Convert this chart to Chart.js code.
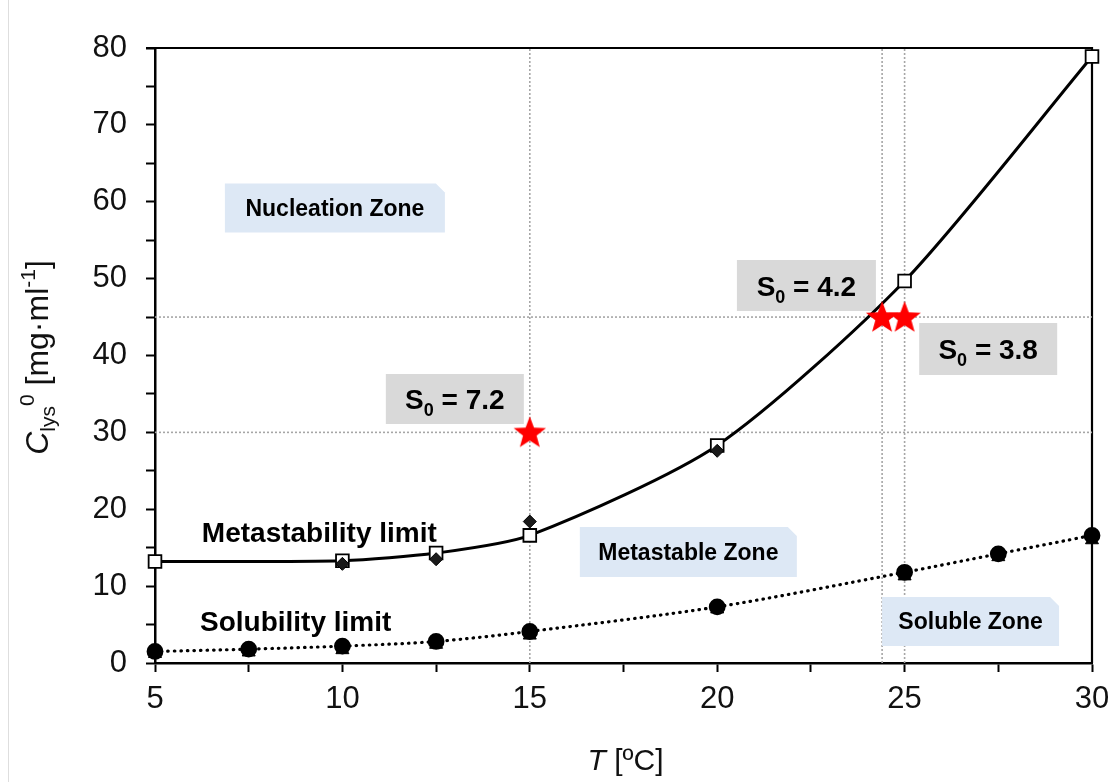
<!DOCTYPE html>
<html>
<head>
<meta charset="utf-8">
<script src="https://cdn.jsdelivr.net/npm/chart.js@4/dist/chart.umd.min.js"></script>
<style>
  html, body { margin: 0; background: #fff; }
  #wrap { width: 1115px; height: 782px; }
</style>
</head>
<body>
<div id="wrap"><canvas id="chart" width="1115" height="782"></canvas></div>
<script>
// ------------------------------------------------------------
// 리소자임 용해도 / 준안정 한계 차트
// ------------------------------------------------------------
const FONT = "'Liberation Sans', Arial, sans-serif";

// 데이터
const tempMeta   = [5, 10, 12.5, 15, 20, 25, 30];
const metaLimit  = [13.2, 13.3, 14.3, 16.6, 28.3, 49.7, 78.9];
const tempAlt    = [10, 12.5, 15, 20];
const metaAlt    = [12.9, 13.5, 18.4, 27.6];
const tempSol    = [5, 7.5, 10, 12.5, 15, 20, 25, 27.5, 30];
const solLimit   = [1.5, 1.8, 2.2, 2.8, 4.1, 7.3, 11.8, 14.2, 16.6];
const solAlt     = [1.2, 1.4, 1.7, 2.4, 3.6, 7.0, 11.3, 13.8, 16.0];
const starT      = [15, 24.4, 25];
const starC      = [30, 45, 45];
const refT       = [15, 24.4, 25];
const refC       = [30, 45];
const xTicks     = [5, 10, 15, 20, 25, 30];
const yTicks     = [0, 10, 20, 30, 40, 50, 60, 70, 80];
const xRange     = [5, 30];
const yRange     = [0, 80];

const ZONE_BG = '#dde8f5';
const S0_BG   = '#d9d9d9';
const REF     = '#a6a6a6';

const pts = (xs, ys) => xs.map((x, i) => ({ x, y: ys[i] }));

// 빨간 별 마커
function starImage(size, color) {
  const c = document.createElement('canvas');
  c.width = c.height = size;
  const g = c.getContext('2d');
  const R = size / 2 - 1, r = R * 0.42, cx = size / 2, cy = size / 2 + 1;
  g.beginPath();
  for (let i = 0; i < 10; i++) {
    const a = -Math.PI / 2 + i * Math.PI / 5;
    const rr = i % 2 ? r : R;
    g.lineTo(cx + rr * Math.cos(a), cy + rr * Math.sin(a));
  }
  g.closePath();
  g.fillStyle = color;
  g.fill();
  return c;
}

// 주석 박스 (위치: 데이터 좌표 중심, 크기: px)
const notes = [
  { kind: 'zone', text: 'Nucleation Zone', x: 9.80,  y: 59.2,  w: 220, h: 49 },
  { kind: 'zone', text: 'Metastable Zone', x: 19.23, y: 14.44, w: 217, h: 50 },
  { kind: 'zone', text: 'Soluble Zone',    x: 26.76, y: 5.40,  w: 177, h: 49 },
  { kind: 's0',   text: ' = 7.2',          x: 13.0,  y: 34.34, w: 138, h: 50 },
  { kind: 's0',   text: ' = 4.2',          x: 22.38, y: 49.1,  w: 139, h: 51 },
  { kind: 's0',   text: ' = 3.8',          x: 27.23, y: 40.85, w: 138, h: 52 },
];
const curveLabels = [
  { text: 'Metastability limit', x: 6.25, y: 15.7 },
  { text: 'Solubility limit',    x: 6.2,  y: 4.15 },
];

function rich(ctx, parts, x, y) {
  let w = 0;
  parts.forEach(p => { ctx.font = p.f; p.w = ctx.measureText(p.t).width; w += p.w; });
  let cx = x - w / 2;
  parts.forEach(p => { ctx.font = p.f; ctx.fillText(p.t, cx, y + (p.dy || 0)); cx += p.w; });
}

function drawNotes(chart) {
  const { ctx, scales: { x, y } } = chart;
  ctx.save();
  ctx.textAlign = 'left';
  ctx.textBaseline = 'alphabetic';
  notes.forEach(n => {
    const cx = x.getPixelForValue(n.x), cy = y.getPixelForValue(n.y);
    const x0 = cx - n.w / 2, y0 = cy - n.h / 2, x1 = x0 + n.w, y1 = y0 + n.h;
    ctx.beginPath();
    if (n.kind === 'zone') {
      const k = 9;
      ctx.moveTo(x0, y0); ctx.lineTo(x1 - k, y0); ctx.lineTo(x1, y0 + k);
      ctx.lineTo(x1, y1); ctx.lineTo(x0, y1);
      ctx.fillStyle = ZONE_BG;
    } else {
      ctx.rect(x0, y0, n.w, n.h);
      ctx.fillStyle = S0_BG;
    }
    ctx.closePath();
    ctx.fill();
    ctx.fillStyle = '#000';
    if (n.kind === 'zone') {
      rich(ctx, [{ t: n.text, f: `bold 23px ${FONT}` }], cx, cy + 8);
    } else {
      rich(ctx, [
        { t: 'S', f: `bold 28px ${FONT}` },
        { t: '0', f: `bold 18px ${FONT}`, dy: 7 },
        { t: n.text, f: `bold 28px ${FONT}` },
      ], cx, cy + 10);
    }
  });
  ctx.restore();
}

const overlay = {
  id: 'overlay',
  beforeDraw(chart) {
    const { ctx } = chart;
    ctx.save();
    ctx.strokeStyle = '#dedede';
    ctx.lineWidth = 1;
    ctx.beginPath(); ctx.moveTo(8.5, 0); ctx.lineTo(8.5, 782); ctx.stroke();
    ctx.restore();
  },
  beforeDatasetsDraw(chart) {
    const { ctx, chartArea: a } = chart;
    this._boxes = false;
    ctx.save();
    ctx.strokeStyle = '#000';
    ctx.lineWidth = 2.2;
    ctx.beginPath();
    ctx.moveTo(a.left - 9, a.top); ctx.lineTo(a.right, a.top); ctx.lineTo(a.right, a.bottom);
    ctx.stroke();
    ctx.restore();
  },
  beforeDatasetDraw(chart, args) {
    if (!this._boxes && !chart.data.datasets[args.index].isRef) {
      drawNotes(chart);
      this._boxes = true;
    }
  },
  afterDraw(chart) {
    const { ctx, chartArea: a, scales: { x, y } } = chart;
    ctx.save();
    ctx.fillStyle = '#000';
    ctx.textAlign = 'left';
    ctx.textBaseline = 'alphabetic';
    curveLabels.forEach(l => {
      ctx.font = `bold 28px ${FONT}`;
      ctx.fillText(l.text, x.getPixelForValue(l.x), y.getPixelForValue(l.y));
    });
    // 축 제목
    ctx.fillStyle = '#111';
    rich(ctx, [
      { t: 'T', f: `italic 30px ${FONT}` },
      { t: ' [ºC]', f: `30px ${FONT}` },
    ], (a.left + a.right) / 2 + 2, a.bottom + 107);
    ctx.translate(48, (a.top + a.bottom) / 2 + 2);
    ctx.rotate(-Math.PI / 2);
    rich(ctx, [
      { t: 'C', f: `italic 32px ${FONT}` },
      { t: 'lys', f: `21px ${FONT}`, dy: 7 },
      { t: '0', f: `21px ${FONT}`, dy: -14 },
      { t: ' [mg·ml', f: `32px ${FONT}` },
      { t: '-1', f: `21px ${FONT}`, dy: -13 },
      { t: ']', f: `32px ${FONT}` },
    ], 0, 0);
    ctx.restore();
  },
};

const refLines = [
  ...refT.map(t => ({ data: pts([t, t], yRange) })),
  ...refC.map(c => ({ data: pts(xRange, [c, c]) })),
].map(d => ({
  ...d,
  isRef: true,
  borderColor: REF,
  borderWidth: 1.6,
  borderDash: [2, 2],
  pointRadius: 0,
  order: 10,
}));

new Chart(document.getElementById('chart'), {
  type: 'line',
  data: {
    datasets: [
      ...refLines,
      {
        data: pts(tempSol, solAlt),
        showLine: false,
        pointStyle: 'triangle',
        pointRadius: 7.5,
        pointBackgroundColor: '#000',
        pointBorderColor: '#000',
        clip: false,
        order: 6,
      },
      {
        data: pts(tempSol, solLimit),
        borderColor: '#000',
        borderWidth: 3.2,
        borderDash: [0.5, 6],
        borderCapStyle: 'round',
        tension: 0.3,
        pointStyle: 'circle',
        pointRadius: 6.8,
        pointBackgroundColor: '#000',
        pointBorderColor: '#000',
        clip: false,
        order: 5,
      },
      {
        data: pts(tempMeta, metaLimit),
        borderColor: '#000',
        borderWidth: 3,
        tension: 0.25,
        pointStyle: 'rect',
        pointRadius: 9,
        pointBackgroundColor: '#fff',
        pointBorderColor: '#000',
        pointBorderWidth: 1.8,
        clip: false,
        order: 4,
      },
      {
        data: pts(tempAlt, metaAlt),
        showLine: false,
        pointStyle: 'rectRot',
        pointRadius: 6.5,
        pointBackgroundColor: '#1a1a1a',
        pointBorderColor: '#000',
        clip: false,
        order: 3,
      },
      {
        data: pts(starT, starC),
        showLine: false,
        pointStyle: starImage(36, '#ff0000'),
        clip: false,
        order: 0,
      },
    ],
  },
  options: {
    responsive: false,
    animation: false,
    events: [],
    layout: { padding: { top: 48, right: 23, left: 0, bottom: 0 } },
    plugins: { legend: { display: false }, tooltip: { enabled: false } },
    scales: {
      x: {
        type: 'linear',
        min: xRange[0],
        max: xRange[1],
        afterFit: s => { s.height = 119; s.paddingLeft = 0; s.paddingRight = 0; },
        ticks: {
          stepSize: 2.5,
          autoSkip: false,
          maxRotation: 0,
          padding: 9,
          color: '#111',
          font: { family: FONT, size: 31 },
          callback: v => (xTicks.includes(v) ? v : ''),
        },
        grid: { drawOnChartArea: false, tickLength: 9, tickWidth: 2, tickColor: '#000' },
        border: { color: '#000', width: 2.5 },
      },
      y: {
        type: 'linear',
        min: yRange[0],
        max: yRange[1],
        afterFit: s => { s.width = 155; s.paddingTop = 0; s.paddingBottom = 0; },
        ticks: {
          stepSize: 5,
          autoSkip: false,
          padding: 19,
          color: '#111',
          font: { family: FONT, size: 31 },
          callback: v => (yTicks.includes(v) ? v : ''),
        },
        grid: { drawOnChartArea: false, tickLength: 9, tickWidth: 2, tickColor: '#000' },
        border: { color: '#000', width: 2.5 },
      },
    },
  },
  plugins: [overlay],
});
</script>
</body>
</html>
